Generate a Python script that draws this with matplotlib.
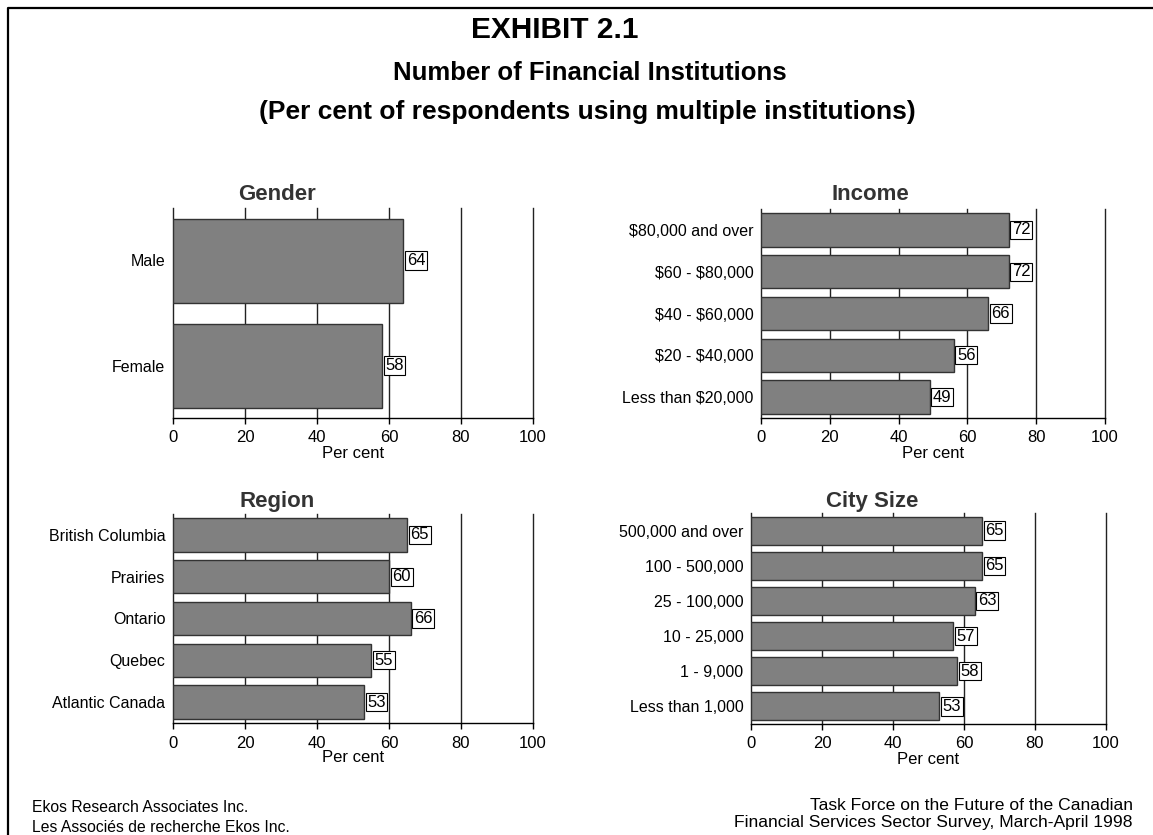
import matplotlib
matplotlib.use("Agg")
import matplotlib.pyplot as plt
from matplotlib.lines import Line2D

plt.rcParams['font.family'] = ['Liberation Sans', 'DejaVu Sans']
plt.rcParams['text.parse_math'] = False

# data read from the exhibit
gender_labels = ['Male', 'Female']
gender_values = [64, 58]

income_labels = ['$80,000 and over', '$60 - $80,000', '$40 - $60,000',
                 '$20 - $40,000', 'Less than $20,000']
income_values = [72, 72, 66, 56, 49]

region_labels = ['British Columbia', 'Prairies', 'Ontario', 'Quebec', 'Atlantic Canada']
region_values = [65, 60, 66, 55, 53]

city_labels = ['500,000 and over', '100 - 500,000', '25 - 100,000',
               '10 - 25,000', '1 - 9,000', 'Less than 1,000']
city_values = [65, 65, 63, 57, 58, 53]

x_ticks = [0, 20, 40, 60, 80, 100]

W, H = 1153, 835


def px_rect(x0, x1, ytop, ybot):
    return [x0 / W, 1 - ybot / H, (x1 - x0) / W, (ybot - ytop) / H]


def draw_panel(fig, rect, title, title_xy, labels, values):
    ax = fig.add_axes(rect)
    n = len(labels)
    pos = list(range(n))
    ax.barh(pos, values, height=0.8, color='#808080', edgecolor='#333333',
            linewidth=1, zorder=2)
    for p, v in zip(pos, values):
        ax.annotate(str(v), (v, p), xytext=(2.5, 0), textcoords='offset points',
                    ha='left', va='center', fontsize=12, zorder=3,
                    bbox=dict(boxstyle='square,pad=0.1', fc='white', ec='black', lw=0.8))
    ax.set_xlim(0, 100)
    ax.set_ylim(n - 0.5, -0.5)
    ax.set_xticks(x_ticks)
    ax.set_yticks(pos)
    ax.set_yticklabels(labels, fontsize=11.5)
    ax.tick_params(axis='y', length=0, pad=5.5)
    ax.tick_params(axis='x', length=4, width=1, labelsize=12, pad=5, color='black')
    ax.set_xlabel('Per cent', fontsize=12, labelpad=0)
    ax.set_axisbelow(True)
    ax.xaxis.grid(True, color='#222222', linewidth=1)
    for gl in ax.get_xgridlines():
        gl.set_clip_on(False)
    for s in ['top', 'right', 'left']:
        ax.spines[s].set_visible(False)
    ax.spines['bottom'].set_linewidth(1)
    fig.text(title_xy[0] / W, 1 - title_xy[1] / H, title, ha='center', va='center',
             fontsize=16, fontweight='bold', color='#333333')
    return ax


fig = plt.figure(figsize=(11.53, 8.35), dpi=100)

# frame round the page (only left and top edges are visible)
fig.add_artist(Line2D([8 / W, 8 / W, 1.01], [-0.01, 1 - 8 / H, 1 - 8 / H],
                      transform=fig.transFigure, color='black', linewidth=1.6))

fig.text(555 / W, 1 - 30 / H, 'EXHIBIT 2.1', ha='center', va='center',
         fontsize=21.5, fontweight='bold')
fig.text(590 / W, 1 - 73 / H, 'Number of Financial Institutions', ha='center', va='center',
         fontsize=18.5, fontweight='bold')
fig.text(587 / W, 1 - 112 / H, '(Per cent of respondents using multiple institutions)',
         ha='center', va='center', fontsize=19, fontweight='bold')

draw_panel(fig, px_rect(173, 533, 208, 418), 'Gender', (277, 195), gender_labels, gender_values)
draw_panel(fig, px_rect(761, 1105, 209, 418), 'Income', (870, 195), income_labels, income_values)
draw_panel(fig, px_rect(173, 533, 514, 723), 'Region', (277, 502), region_labels, region_values)
draw_panel(fig, px_rect(751, 1106, 513, 724), 'City Size', (872, 502), city_labels, city_values)

fig.text(32 / W, 1 - 808 / H, 'Ekos Research Associates Inc.', ha='left', va='center', fontsize=11.3)
fig.text(32 / W, 1 - 828 / H, 'Les Associés de recherche Ekos Inc.', ha='left', va='center', fontsize=11.3)
fig.text(1133 / W, 1 - 805 / H, 'Task Force on the Future of the Canadian',
         ha='right', va='center', fontsize=12.6)
fig.text(1133 / W, 1 - 823 / H, 'Financial Services Sector Survey, March-April 1998',
         ha='right', va='center', fontsize=12.6)

fig.savefig('out.png', dpi=100)
